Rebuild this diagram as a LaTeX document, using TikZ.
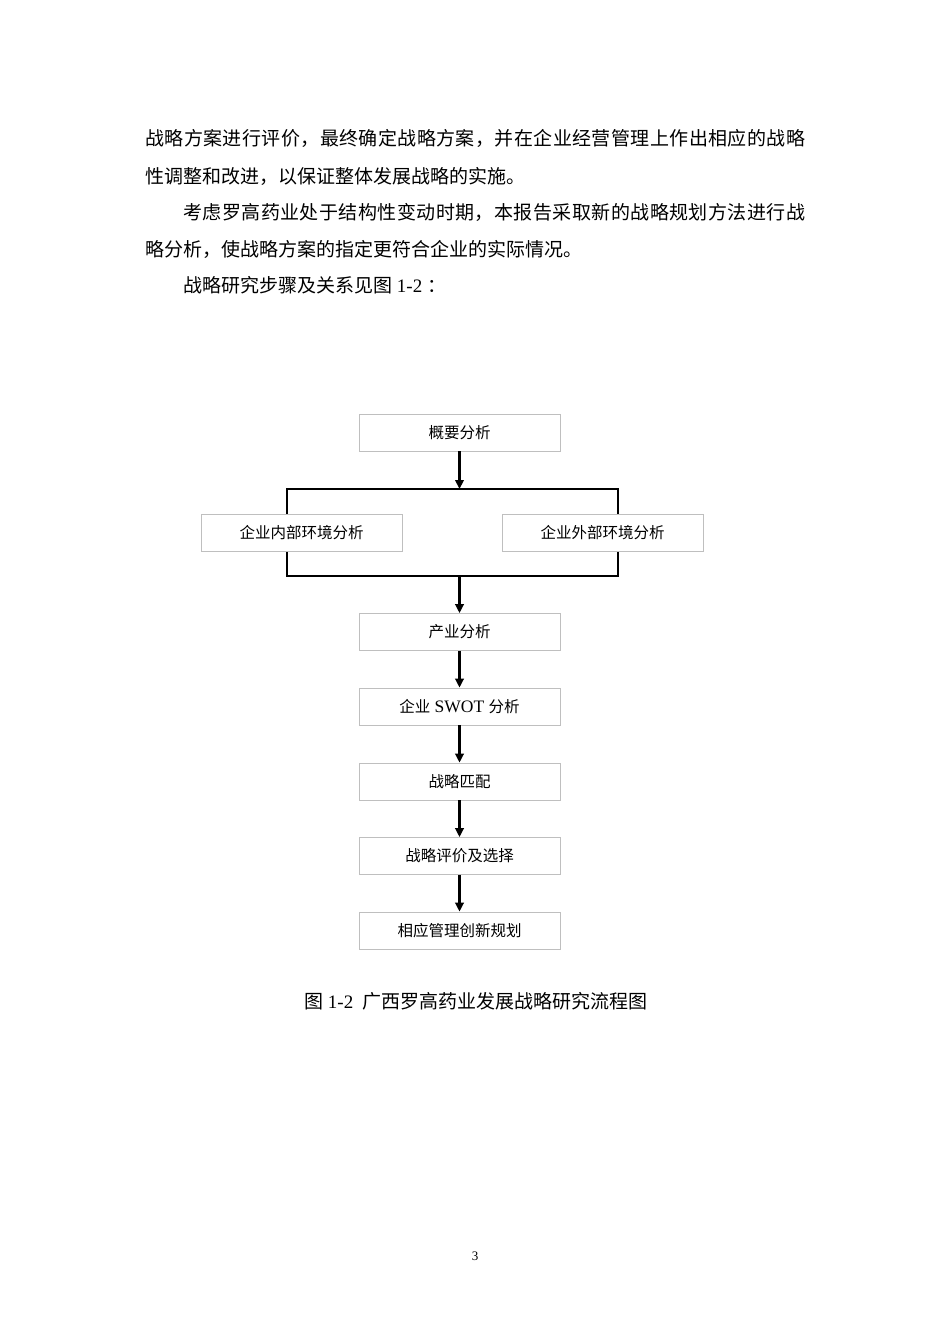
\documentclass[tikz,border=0pt]{standalone}
\usepackage{fontspec}
\setmainfont{Liberation Serif}
\newfontfamily\cjk{Noto Sans CJK SC}
\usetikzlibrary{arrows.meta}
\def\spreadchars#1{\spreadfirst#1\relax}
\def\spreadfirst#1{#1\spreadaux}
\def\spreadaux#1{\ifx#1\relax\else\hfil#1\expandafter\spreadaux\fi}
\begin{document}
\begin{tikzpicture}[x=1pt,y=-1pt,
  body/.style={anchor=base west, inner sep=0pt, font=\cjk\fontsize{19}{22}\selectfont},
  box/.style={draw=gray!50, line width=0.8pt, fill=white, minimum width=201pt, minimum height=37pt, inner sep=0pt, font=\cjk\fontsize{15.5}{18}\selectfont},
  flow/.style={line width=2.2pt, -{Triangle[length=9pt,width=8.5pt]}},
  bracket/.style={line width=2.2pt}]
\fill[white] (0,0) rectangle (950,1344);
\useasboundingbox (0,0) rectangle (950,1344);
% body text
\node[body] (l1) at (145,145) {\hbox to 660pt{\spreadchars{战略方案进行评价，最终确定战略方案，并在企业经营管理上作出相应的战略}}};
\node[body] (l2) at (145,183) {性调整和改进，以保证整体发展战略的实施。};
\node[body] (l3) at (183,219) {\hbox to 622pt{\spreadchars{考虑罗高药业处于结构性变动时期，本报告采取新的战略规划方法进行战}}};
\node[body] (l4) at (145,256) {略分析，使战略方案的指定更符合企业的实际情况。};
\node[body] (l5) at (183,292) {战略研究步骤及关系见图{\rmfamily\ 1-2 }：};
% bracket
\coordinate (jt) at (459.5,489);
\coordinate (jb) at (459.5,576);
\draw[bracket] (287,489) rectangle (618,576);
% boxes
\node[box] (top) at (459.5,432.5) {概要分析};
\node[box] (inn) at (301.5,532.5) {企业内部环境分析};
\node[box] (out) at (602.5,532.5) {企业外部环境分析};
\node[box] (p1) at (459.5,632) {产业分析};
\node[box] (p2) at (459.5,706.5) {企业{\rmfamily\fontsize{17.5}{18}\selectfont\ SWOT }分析};
\node[box] (p3) at (459.5,781.5) {战略匹配};
\node[box] (p4) at (459.5,856) {战略评价及选择};
\node[box] (p5) at (459.5,930.5) {相应管理创新规划};
% connectors
\draw[flow] (top.south) -- (jt);
\draw[flow] (jb) -- (p1.north);
\draw[flow] (p1) -- (p2);
\draw[flow] (p2) -- (p3);
\draw[flow] (p3) -- (p4);
\draw[flow] (p4) -- (p5);
% caption
\node[font=\cjk\fontsize{19}{22}\selectfont, inner sep=0pt] (cap) at (476,1001) {图{\rmfamily\ 1-2\ \ }广西罗高药业发展战略研究流程图};
\node[font=\rmfamily\fontsize{13}{15}\selectfont, inner sep=0pt] (pg) at (475,1256) {3};
\end{tikzpicture}
\end{document}
